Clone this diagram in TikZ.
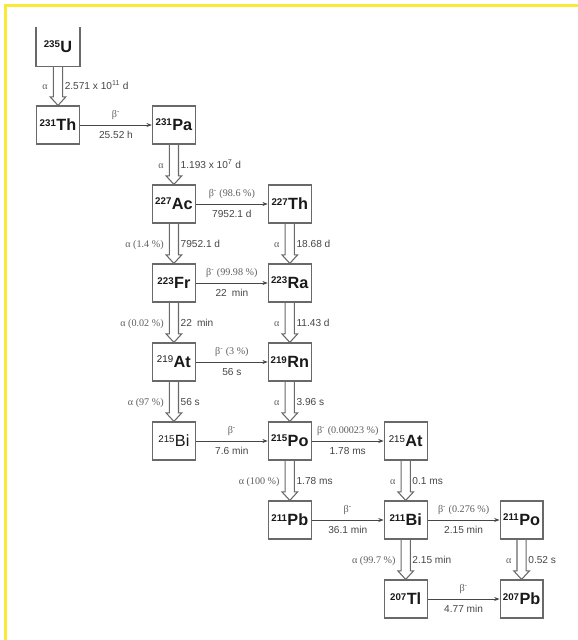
\documentclass[tikz,border=0pt]{standalone}
\usepackage{fontspec}
\setmainfont{Liberation Sans}
\newfontfamily\tnr{Liberation Serif}
\usetikzlibrary{arrows.meta,calc}
\definecolor{clrBox}{RGB}{105,105,105}
\definecolor{clrNuc}{RGB}{25,25,25}
\definecolor{clrLab}{RGB}{70,70,70}
\definecolor{clrGrk}{RGB}{95,95,95}
\definecolor{clrYel}{RGB}{250,233,55}
\newcommand{\iso}[2]{\raisebox{3.5pt}{\fontsize{7.3}{8}\selectfont #1}\kern0.3pt#2}
\tikzset{
  nuc/.style={rectangle,draw=clrBox,line width=0.9pt,minimum width=32.2pt,
    minimum height=28.5pt,inner sep=0pt,text=clrNuc,
    font=\fontsize{12.2}{14}\selectfont\bfseries},
  nucthin/.style={nuc,font=\fontsize{12.2}{14}\selectfont},
  hollow/.style={draw=clrBox,line width=0.8pt,to path={
    ($(\tikztostart.south)+(-4.6,0)$) -- ($(\tikztotarget.north)+(-4.6,-8.5)$)
    -- ($(\tikztotarget.north)+(-7.8,-8.5)$) -- (\tikztotarget.north)
    -- ($(\tikztotarget.north)+(7.8,-8.5)$) -- ($(\tikztotarget.north)+(4.6,-8.5)$)
    -- ($(\tikztostart.south)+(4.6,0)$)}},
  beta/.style={draw=clrLab,line width=0.6pt,-{Stealth[length=4pt,width=3pt]}},
  lab/.style={font=\fontsize{7.6}{9}\selectfont,text=clrLab,inner sep=0pt},
  grk/.style={font=\fontsize{7.6}{9}\selectfont\tnr,text=clrGrk,inner sep=0pt},
  up/.style={grk,midway,anchor=base,yshift=5.6pt},
  down/.style={lab,midway,anchor=base,yshift=-10.2pt}
}
\begin{document}
\begin{tikzpicture}[x=0.75pt,y=-0.75pt]
  \def\cw{115.9}
  \def\rh{79}
  \fill[white] (0,0) rectangle (578,640);
  \useasboundingbox (0,0) rectangle (578,640);
  \draw[clrYel,line width=1.9pt] (5.5,640) -- (5.5,5.5) -- (578,5.5);
  % nuclides
  \node[nuc,draw=none] (u235) at (58,46.5) {\iso{235}{U}};
  \draw[clrBox,line width=0.9pt] (u235.north west) -- (u235.south west)
    -- (u235.south east) -- (u235.north east);
  \node[nuc] (th231) at (58,125) {\iso{231}{Th}};
  \node[nuc] (pa231) at (58+\cw,125) {\iso{231}{Pa}};
  \node[nuc] (ac227) at (58+\cw,125+\rh) {\iso{227}{Ac}};
  \node[nuc] (th227) at (58+2*\cw,125+\rh) {\iso{227}{Th}};
  \node[nuc] (fr223) at (58+\cw,125+2*\rh) {\iso{223}{Fr}};
  \node[nuc] (ra223) at (58+2*\cw,125+2*\rh) {\iso{223}{Ra}};
  \node[nuc] (at219) at (58+\cw,125+3*\rh) {\iso{\mdseries 219}{At}};
  \node[nuc] (rn219) at (58+2*\cw,125+3*\rh) {\iso{219}{Rn}};
  \node[nucthin] (bi215) at (58+\cw,125+4*\rh) {\iso{215}{Bi}};
  \node[nuc] (po215) at (58+2*\cw,125+4*\rh) {\iso{215}{Po}};
  \node[nuc] (at215) at (58+3*\cw,125+4*\rh) {\iso{\mdseries 215}{At}};
  \node[nuc] (pb211) at (58+2*\cw,125+5*\rh) {\iso{211}{Pb}};
  \node[nuc] (bi211) at (58+3*\cw,125+5*\rh) {\iso{211}{Bi}};
  \node[nuc] (po211) at (58+4*\cw,125+5*\rh) {\iso{211}{Po}};
  \node[nuc] (tl207) at (58+3*\cw,125+6*\rh) {\iso{207}{Tl}};
  \node[nuc] (pb207) at (58+4*\cw,125+6*\rh) {\iso{207}{Pb}};
  % alpha decays
  \draw[hollow] (u235) to (th231);
  \node[grk,anchor=base east] at ($(u235.south)!.5!(th231.north)+(-10,3.5)$) {α};
  \node[lab,anchor=base west] at ($(u235.south)!.5!(th231.north)+(6.5,3.5)$) {2.571 x 10\textsuperscript{11} d};
  \draw[hollow] (pa231) to (ac227);
  \node[grk,anchor=base east] at ($(pa231.south)!.5!(ac227.north)+(-10,3.5)$) {α};
  \node[lab,anchor=base west] at ($(pa231.south)!.5!(ac227.north)+(6.5,3.5)$) {1.193 x 10\textsuperscript{7} d};
  \draw[hollow] (ac227) to (fr223);
  \node[grk,anchor=base east] at ($(ac227.south)!.5!(fr223.north)+(-10,3.5)$) {α (1.4 \%)};
  \node[lab,anchor=base west] at ($(ac227.south)!.5!(fr223.north)+(6.5,3.5)$) {7952.1 d};
  \draw[hollow] (th227) to (ra223);
  \node[grk,anchor=base east] at ($(th227.south)!.5!(ra223.north)+(-10,3.5)$) {α};
  \node[lab,anchor=base west] at ($(th227.south)!.5!(ra223.north)+(6.5,3.5)$) {18.68 d};
  \draw[hollow] (fr223) to (at219);
  \node[grk,anchor=base east] at ($(fr223.south)!.5!(at219.north)+(-10,3.5)$) {α (0.02 \%)};
  \node[lab,anchor=base west] at ($(fr223.south)!.5!(at219.north)+(6.5,3.5)$) {22\enspace min};
  \draw[hollow] (ra223) to (rn219);
  \node[grk,anchor=base east] at ($(ra223.south)!.5!(rn219.north)+(-10,3.5)$) {α};
  \node[lab,anchor=base west] at ($(ra223.south)!.5!(rn219.north)+(6.5,3.5)$) {11.43 d};
  \draw[hollow] (at219) to (bi215);
  \node[grk,anchor=base east] at ($(at219.south)!.5!(bi215.north)+(-10,3.5)$) {α (97 \%)};
  \node[lab,anchor=base west] at ($(at219.south)!.5!(bi215.north)+(6.5,3.5)$) {56 s};
  \draw[hollow] (rn219) to (po215);
  \node[grk,anchor=base east] at ($(rn219.south)!.5!(po215.north)+(-10,3.5)$) {α};
  \node[lab,anchor=base west] at ($(rn219.south)!.5!(po215.north)+(6.5,3.5)$) {3.96 s};
  \draw[hollow] (po215) to (pb211);
  \node[grk,anchor=base east] at ($(po215.south)!.5!(pb211.north)+(-10,3.5)$) {α (100 \%)};
  \node[lab,anchor=base west] at ($(po215.south)!.5!(pb211.north)+(6.5,3.5)$) {1.78 ms};
  \draw[hollow] (at215) to (bi211);
  \node[grk,anchor=base east] at ($(at215.south)!.5!(bi211.north)+(-10,3.5)$) {α};
  \node[lab,anchor=base west] at ($(at215.south)!.5!(bi211.north)+(6.5,3.5)$) {0.1 ms};
  \draw[hollow] (bi211) to (tl207);
  \node[grk,anchor=base east] at ($(bi211.south)!.5!(tl207.north)+(-10,3.5)$) {α (99.7 \%)};
  \node[lab,anchor=base west] at ($(bi211.south)!.5!(tl207.north)+(6.5,3.5)$) {2.15 min};
  \draw[hollow] (po211) to (pb207);
  \node[grk,anchor=base east] at ($(po211.south)!.5!(pb207.north)+(-10,3.5)$) {α};
  \node[lab,anchor=base west] at ($(po211.south)!.5!(pb207.north)+(6.5,3.5)$) {0.52 s};
  % beta decays
  \draw[beta] (th231) -- (pa231) node[up]{β\textsuperscript{-}} node[down]{25.52 h};
  \draw[beta] (ac227) -- (th227) node[up]{β\textsuperscript{-} (98.6 \%)} node[down]{7952.1 d};
  \draw[beta] (fr223) -- (ra223) node[up]{β\textsuperscript{-} (99.98 \%)} node[down]{22\enspace min};
  \draw[beta] (at219) -- (rn219) node[up]{β\textsuperscript{-} (3 \%)} node[down]{56 s};
  \draw[beta] (bi215) -- (po215) node[up]{β\textsuperscript{-}} node[down]{7.6 min};
  \draw[beta] (po215) -- (at215) node[up]{β\textsuperscript{-} (0.00023 \%)} node[down]{1.78 ms};
  \draw[beta] (pb211) -- (bi211) node[up]{β\textsuperscript{-}} node[down]{36.1 min};
  \draw[beta] (bi211) -- (po211) node[up]{β\textsuperscript{-} (0.276 \%)} node[down]{2.15 min};
  \draw[beta] (tl207) -- (pb207) node[up]{β\textsuperscript{-}} node[down]{4.77 min};
\end{tikzpicture}
\end{document}
